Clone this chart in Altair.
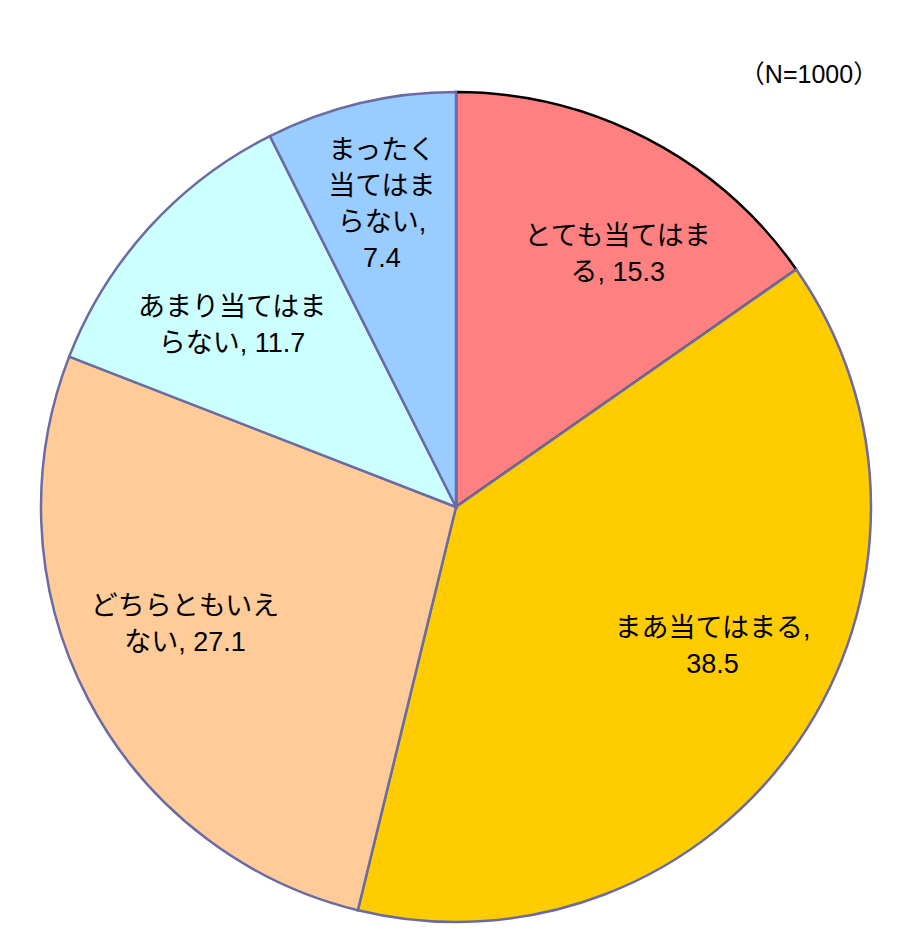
import altair as alt
import pandas as pd

categories = ["とても当てはまる", "まあ当てはまる", "どちらともいえない", "あまり当てはまらない", "まったく当てはまらない"]
values = [15.3, 38.5, 27.1, 11.7, 7.4]
label_lines = [
    ["とても当てはま", "る, 15.3"],
    ["まあ当てはまる,", "38.5"],
    ["どちらともいえ", "ない, 27.1"],
    ["あまり当てはま", "らない, 11.7"],
    ["まったく", "当てはま", "らない,", "7.4"],
]
colors = ["#FF8080", "#FFCC00", "#FFCC99", "#CCFFFF", "#99CCFF"]
note = ["（N=1000）"]

df = pd.DataFrame({
    "cat": categories,
    "value": values,
    "idx": list(range(len(categories))),
    "label": label_lines,
})

FONT = "Liberation Sans, Noto Sans CJK JP, sans-serif"
CX, CY = 448, 499
LH = 36
# small nudges of each label from its slice's mid-angle anchor (like Excel's label placement)
nudges = [(23, 14), (9, -29), (-5, -21), (-2, 21), (-5, -10)]

base = alt.Chart(df).encode(
    theta=alt.Theta("value:Q", stack=True),
    order=alt.Order("idx:Q"),
    x=alt.value(CX),
    y=alt.value(CY),
)

pie = base.mark_arc(outerRadius=415, strokeWidth=2.5).encode(
    color=alt.Color("cat:N", scale=alt.Scale(domain=categories, range=colors), legend=None),
    stroke=alt.condition(alt.datum.idx == 0, alt.value("#000000"), alt.value("#6B6BA3")),
)

label_layers = []
for i, (ddx, ddy) in enumerate(nudges):
    n = len(label_lines[i])
    label_layers.append(
        base.mark_text(radius=300, font=FONT, fontSize=27, color="#000000",
                       align="center", baseline="middle", lineHeight=LH,
                       dx=ddx, dy=ddy - (n - 1) * LH / 2).encode(
            text="label",
            opacity=alt.condition(alt.datum.idx == i, alt.value(1), alt.value(0)),
        )
    )

note_layer = alt.Chart(pd.DataFrame({"t": note})).mark_text(
    font=FONT, fontSize=25, color="#000000", align="center", baseline="middle"
).encode(text="t:N", x=alt.value(801), y=alt.value(67))

chart = alt.layer(pie, *label_layers, note_layer).properties(
    width=904, height=924, autosize=alt.AutoSizeParams(type="none"), padding=0,
    background="#FFFFFF",
).configure_view(stroke=None)

chart.save("out.html", embed_options={"renderer": "svg", "actions": False})
